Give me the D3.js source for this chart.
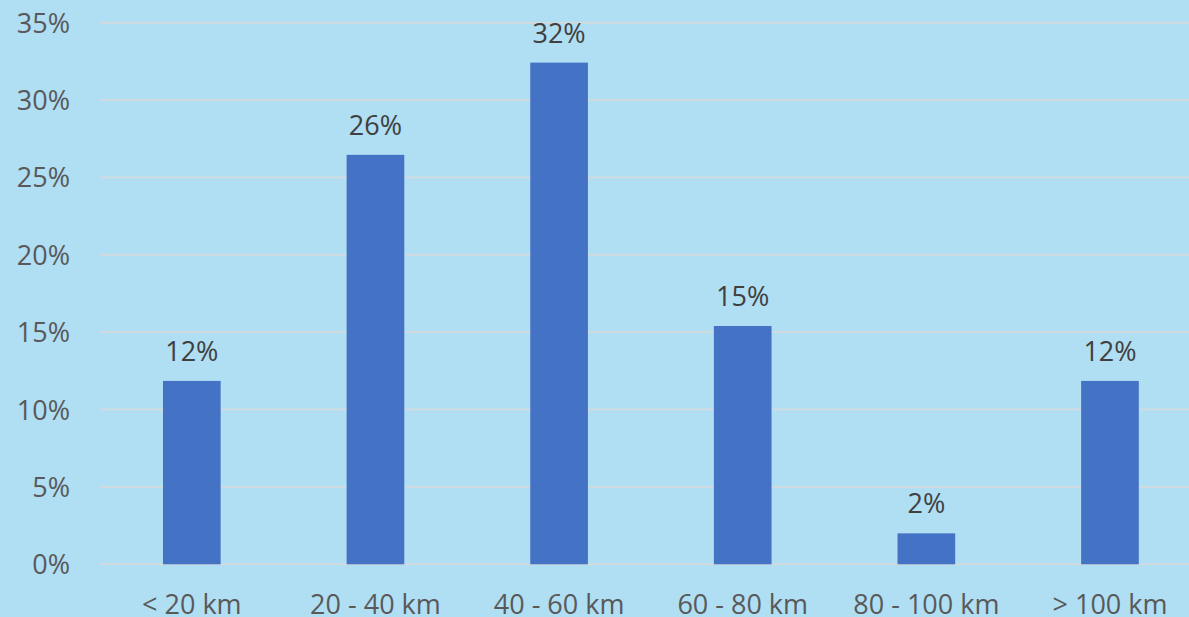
<!DOCTYPE html>
<html>
<head>
<meta charset="utf-8">
<script src="https://cdn.jsdelivr.net/npm/d3@7"></script>
<style>
  html, body { margin: 0; padding: 0; background: #b0def3; }
  svg { display: block; }
  text { font-family: "Open Sans", "Noto Sans", sans-serif; }
</style>
</head>
<body>
<svg id="chart" width="1189" height="617"></svg>
<script>
// Distance bands and share of trips in each
const categories = ["< 20 km", "20 - 40 km", "40 - 60 km", "60 - 80 km", "80 - 100 km", "> 100 km"];
const shares = [0.1185, 0.2646, 0.3242, 0.154, 0.02, 0.1185];
const yTicks = [0, 0.05, 0.10, 0.15, 0.20, 0.25, 0.30, 0.35];

const svg = d3.select("#chart");
const W = 1189, H = 617;

const x = d3.scaleBand()
  .domain(categories)
  .range([100, 1201.8])
  .paddingInner(0.686)
  .paddingOuter(0.343);

const y = d3.scaleLinear()
  .domain([0, 0.35])
  .range([564.3, 22.7]);

const pct = d3.format(".0%");

svg.append("rect").attr("width", W).attr("height", H).attr("fill", "#b0def3");

// Horizontal gridlines
svg.append("g")
  .selectAll("line")
  .data(yTicks)
  .join("line")
  .attr("x1", 100)
  .attr("x2", W)
  .attr("y1", d => y(d))
  .attr("y2", d => y(d))
  .attr("stroke", "#d9d9d9")
  .attr("stroke-width", 1.5);

// Y axis labels
const yAxis = d3.axisLeft(y).tickValues(yTicks).tickFormat(pct).tickSize(0).tickPadding(0);
const ya = svg.append("g").attr("transform", "translate(70,0)").call(yAxis);
ya.select(".domain").remove();
ya.selectAll("text")
  .attr("fill", "#595959")
  .attr("font-size", 27)
  .attr("font-family", "'Open Sans', sans-serif")
  .attr("dy", "0.35em");

// X axis labels
const xAxis = d3.axisBottom(x).tickSize(0).tickPadding(0);
const xa = svg.append("g").attr("transform", "translate(0,614)").call(xAxis);
xa.select(".domain").remove();
xa.selectAll("text")
  .attr("fill", "#595959")
  .attr("font-size", 27)
  .attr("font-family", "'Open Sans', sans-serif")
  .attr("dy", 0)
  .attr("y", 0);

// Bars
svg.append("g")
  .selectAll("rect")
  .data(categories)
  .join("rect")
  .attr("x", (d) => x(d))
  .attr("width", x.bandwidth())
  .attr("y", (d, i) => y(shares[i]))
  .attr("height", (d, i) => y(0) - y(shares[i]))
  .attr("fill", "#4472c4");

// Value labels
svg.append("g")
  .selectAll("text")
  .data(categories)
  .join("text")
  .attr("x", d => x(d) + x.bandwidth() / 2)
  .attr("y", (d, i) => y(shares[i]) - 20)
  .attr("text-anchor", "middle")
  .attr("fill", "#404040")
  .attr("font-size", 27)
  .text((d, i) => pct(shares[i]));
</script>
</body>
</html>
